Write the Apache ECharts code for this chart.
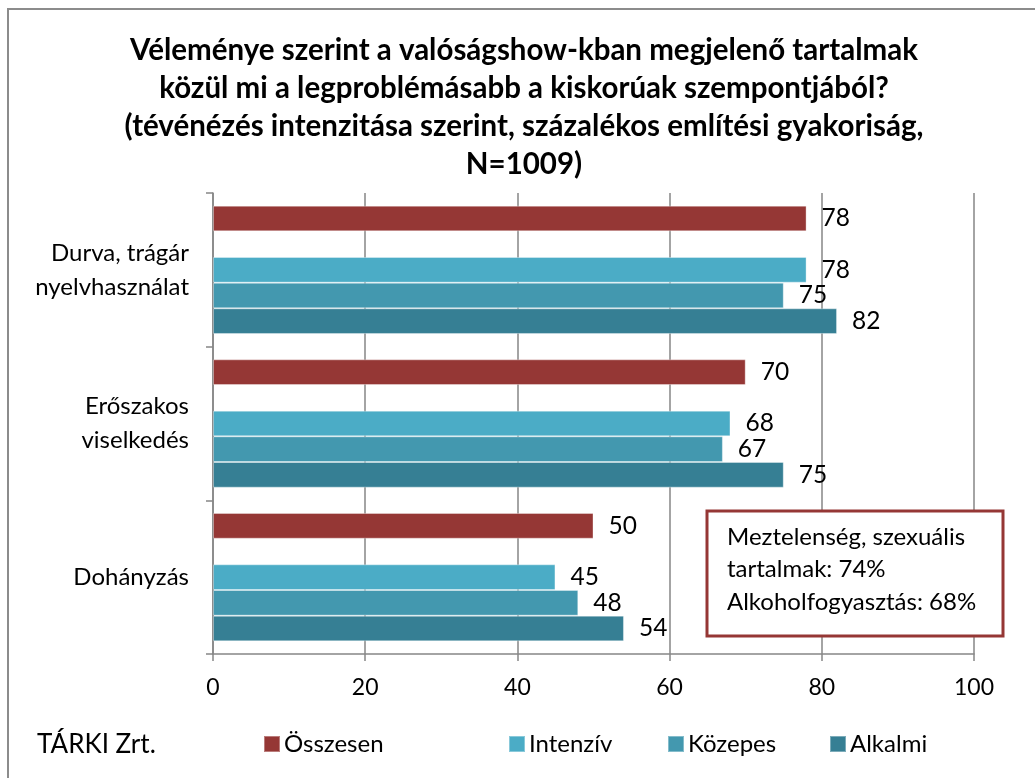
<!DOCTYPE html>
<html>
<head>
<meta charset="utf-8">
<script src="https://cdn.jsdelivr.net/npm/echarts@6/dist/echarts.min.js"></script>
<style>
  html, body { margin: 0; padding: 0; background: #fff; }
  #chart { width: 1035px; height: 778px; }
</style>
</head>
<body>
<div id="chart"></div>
<script>
let categories = ['Durva, trágár\nnyelvhasználat', 'Erőszakos\nviselkedés', 'Dohányzás'];
let osszesen = [78, 70, 50];
let intenziv = [78, 68, 45];
let kozepes = [75, 67, 48];
let alkalmi = [82, 75, 54];
let xTicks = [0, 20, 40, 60, 80, 100];
let boxLines = ['Meztelenség, szexuális', 'tartalmak: 74%', 'Alkoholfogyasztás: 68%'];
let titleLines = [
    'Véleménye szerint a valóságshow-kban megjelenő tartalmak',
    'közül mi a legproblémásabb a kiskorúak szempontjából?',
    '(tévénézés intenzitása szerint, százalékos említési gyakoriság,',
    'N=1009)'
];

let font = 'Lato, "Open Sans", sans-serif';
let gridColor = '#868686';

let myChart = echarts.init(document.getElementById('chart'));

function barSeries(name, data, color) {
    return {
        name: name,
        type: 'bar',
        data: data,
        barGap: 0,
        barCategoryGap: '16.5%',
        itemStyle: {
            color: color,
            borderColor: 'rgba(255,255,255,0.35)',
            borderWidth: 1
        },
        label: {
            show: true,
            position: 'right',
            distance: 15,
            color: '#000',
            fontFamily: font,
            fontSize: 24.5
        }
    };
}

function legendItem(name, left) {
    return {
        data: [name],
        left: left,
        top: 727,
        itemWidth: 16,
        itemHeight: 16,
        itemGap: 4,
        icon: 'rect',
        textStyle: { fontFamily: font, fontSize: 24, color: '#000', padding: [0, 0, 0, -1] }
    };
}

let option = {
    animation: false,
    backgroundColor: '#fff',
    grid: { left: 213, right: 61, top: 193, bottom: 124 },
    legend: [
        legendItem('Összesen', 258),
        legendItem('Intenzív', 503),
        legendItem('Közepes', 662),
        legendItem('Alkalmi', 824)
    ],
    xAxis: {
        type: 'value',
        min: xTicks[0],
        max: xTicks[xTicks.length - 1],
        interval: 20,
        axisLine: { show: true, lineStyle: { color: gridColor, width: 1.5 } },
        axisTick: { show: true, length: 7, lineStyle: { color: gridColor, width: 1.5 } },
        splitLine: { show: true, lineStyle: { color: gridColor, width: 1.5 } },
        axisLabel: { margin: 22, color: '#000', fontFamily: font, fontSize: 23 }
    },
    yAxis: {
        type: 'category',
        inverse: true,
        data: categories,
        axisLine: { show: true, lineStyle: { color: gridColor, width: 1.5 } },
        axisTick: { show: true, length: 7, lineStyle: { color: gridColor, width: 1.5 } },
        axisLabel: { margin: 24, color: '#000', fontFamily: font, fontSize: 24, lineHeight: 34, align: 'right' }
    },
    series: [
        barSeries('Összesen', osszesen, '#953735'),
        barSeries('', [], 'transparent'),
        barSeries('Intenzív', intenziv, '#4BACC6'),
        barSeries('Közepes', kozepes, '#4398AF'),
        barSeries('Alkalmi', alkalmi, '#367F94')
    ],
    graphic: [
        {
            type: 'rect',
            shape: { x: 8, y: 9, width: 1100, height: 900 },
            style: { fill: 'none', stroke: '#8c8c8c', lineWidth: 2 },
            silent: true
        },
        {
            type: 'text',
            x: 524,
            y: 31,
            style: {
                text: titleLines.join('\n'),
                align: 'center',
                fontFamily: font,
                fontWeight: 'bold',
                fontSize: 29.5,
                lineHeight: 38,
                fill: '#000'
            }
        },
        {
            type: 'rect',
            z: 10,
            shape: { x: 707, y: 511, width: 296, height: 125 },
            style: { fill: '#fff', stroke: '#953735', lineWidth: 3 }
        },
        {
            type: 'text',
            z: 11,
            x: 727,
            y: 521,
            style: {
                text: boxLines.join('\n'),
                fontFamily: font,
                fontSize: 24,
                lineHeight: 32.5,
                fill: '#000'
            }
        },
        {
            type: 'text',
            x: 37,
            y: 732,
            style: { text: 'TÁRKI Zrt.', fontFamily: font, fontSize: 26, fill: '#000' }
        }
    ]
};

myChart.setOption(option);
</script>
</body>
</html>
